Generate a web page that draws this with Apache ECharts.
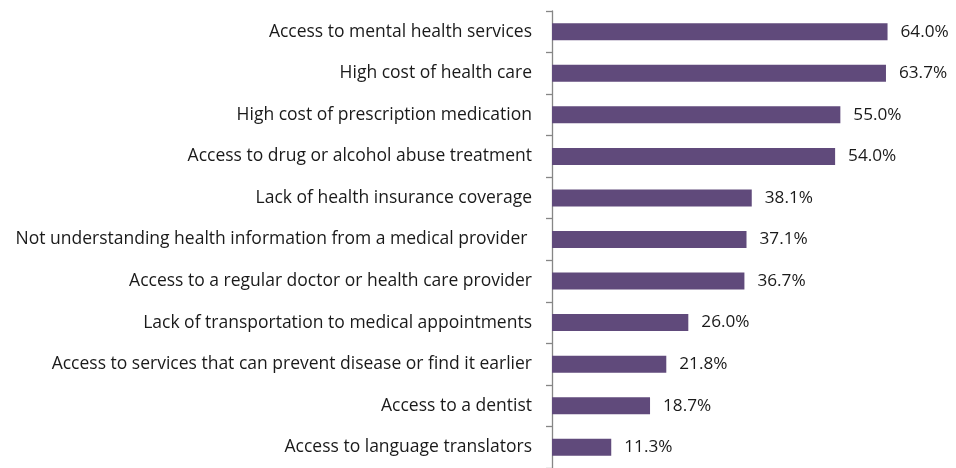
<!DOCTYPE html>
<html><head><meta charset="utf-8">
<script src="https://cdn.jsdelivr.net/npm/echarts@6/dist/echarts.min.js"></script>
<style>html,body{margin:0;padding:0;background:#fff}#c{width:956px;height:468px}</style>
</head><body><div id="c"></div>
<script>
const categories = [
  "Access to mental health services",
  "High cost of health care",
  "High cost of prescription medication",
  "Access to drug or alcohol abuse treatment",
  "Lack of health insurance coverage",
  "Not understanding health information from a medical provider ",
  "Access to a regular doctor or health care provider",
  "Lack of transportation to medical appointments",
  "Access to services that can prevent disease or find it earlier",
  "Access to a dentist",
  "Access to language translators"
];
const values = [64.0, 63.7, 55.0, 54.0, 38.1, 37.1, 36.7, 26.0, 21.8, 18.7, 11.3];

const chart = echarts.init(document.getElementById('c'), null, {renderer: 'canvas'});
chart.setOption({
  animation: false,
  textStyle: {fontFamily: "Open Sans"},
  grid: {left: 552, right: 37, top: 11, height: 460, containLabel: false},
  xAxis: {type: 'value', min: 0, max: 70, show: false},
  yAxis: {
    type: 'category', data: categories, inverse: true,
    axisLine: {lineStyle: {color: '#868686', width: 1.3}},
    axisTick: {show: true, length: 6, lineStyle: {color: '#868686', width: 1.3}},
    axisLabel: {color: '#1a1a1a', fontSize: 17.5, margin: 20, fontFamily: "Open Sans"}
  },
  series: [{
    type: 'bar', data: values, barWidth: 17,
    itemStyle: {color: '#604A7B'},
    label: {show: true, position: 'right', distance: 13, color: '#1a1a1a', fontSize: 17.2,
      formatter: p => p.value.toFixed(1) + '%'}
  }]
});
</script></body></html>
